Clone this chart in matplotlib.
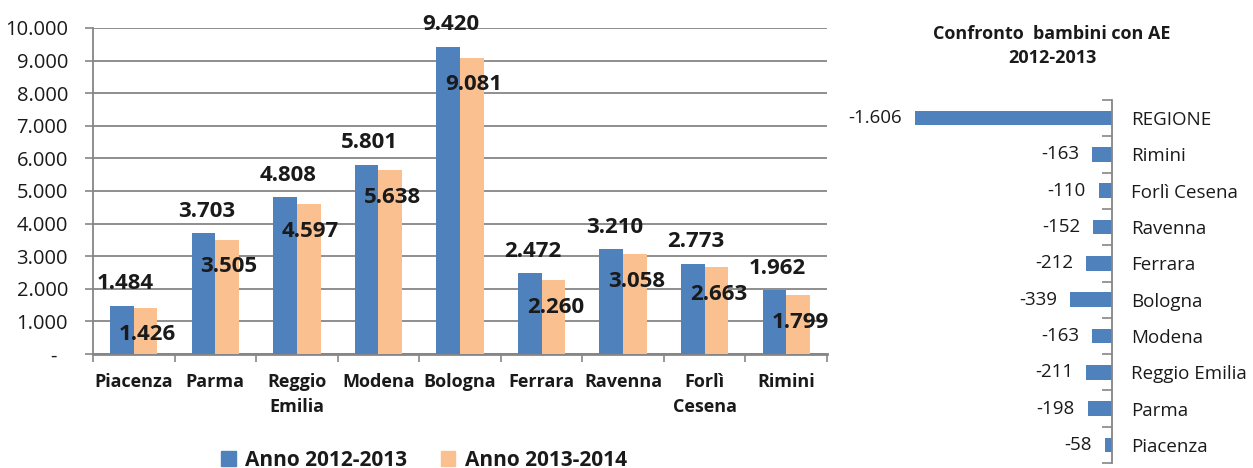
import matplotlib
matplotlib.use("Agg")
import matplotlib.pyplot as plt
from matplotlib.patches import Patch
import numpy as np

plt.rcParams["font.family"] = ["Open Sans", "DejaVu Sans"]

provinces = ["Piacenza", "Parma", "Reggio\nEmilia", "Modena", "Bologna",
             "Ferrara", "Ravenna", "Forlì\nCesena", "Rimini"]
anno_2012 = [1484, 3703, 4808, 5801, 9420, 2472, 3210, 2773, 1962]
anno_2013 = [1426, 3505, 4597, 5638, 9081, 2260, 3058, 2663, 1799]

diff_labels = ["REGIONE", "Rimini", "Forlì Cesena", "Ravenna", "Ferrara",
               "Bologna", "Modena", "Reggio Emilia", "Parma", "Piacenza"]
diff_values = [-1606, -163, -110, -152, -212, -339, -163, -211, -198, -58]

BLUE = "#4F81BD"
ORANGE = "#FAC090"
GRID = "#868686"
TEXT = "#1a1a1a"

W, H = 1253, 468


def fmt(v):
    return f"{v:,}".replace(",", ".")


def box(x0, y0, x1, y1):
    # pixel box (top-left origin) -> figure fraction
    return [x0 / W, 1 - y1 / H, (x1 - x0) / W, (y1 - y0) / H]


fig = plt.figure(figsize=(W / 100, H / 100), dpi=100)

# --- left: grouped bars ---
ax = fig.add_axes(box(93, 28, 827, 354))
x = np.arange(len(provinces))
bw = 0.29
b1 = ax.bar(x - bw / 2, anno_2012, bw, color=BLUE, zorder=3)
b2 = ax.bar(x + bw / 2, anno_2013, bw, color=ORANGE, zorder=3)

ax.set_xlim(-0.5, len(provinces) - 0.5)
ax.set_ylim(0, 10000)
yt = np.arange(0, 10001, 1000)
ax.set_yticks(yt)
ax.set_yticklabels(["-  "] + [fmt(v) for v in yt[1:]], fontsize=14.5, color=TEXT)
ax.yaxis.grid(True, color=GRID, linewidth=1.3, zorder=0)
ax.tick_params(axis="y", length=6, width=1.2, color=GRID, pad=12)

ax.set_xticks(x)
ax.set_xticklabels(provinces, fontsize=13, fontweight="bold", color=TEXT,
                   linespacing=1.45)
ax.set_xticks(np.arange(len(provinces) + 1) - 0.5, minor=True)
ax.tick_params(axis="x", which="major", length=0, pad=14)
ax.tick_params(axis="x", which="minor", length=6, width=1.2, color=GRID)

for s in ["top", "right"]:
    ax.spines[s].set_visible(False)
ax.spines["left"].set_color(GRID)
ax.spines["left"].set_linewidth(1.3)
ax.spines["bottom"].set_color(GRID)
ax.spines["bottom"].set_linewidth(2)

for bar, v in zip(b1, anno_2012):
    ax.annotate(fmt(v), (bar.get_x() + bar.get_width() / 2, v),
                xytext=(3, 22), textcoords="offset pixels", ha="center",
                va="center", fontsize=16, fontweight="bold", color=TEXT, zorder=5)
for bar, v in zip(b2, anno_2013):
    ax.annotate(fmt(v), (bar.get_x() + bar.get_width() / 2, v),
                xytext=(2, -27), textcoords="offset pixels", ha="center",
                va="center", fontsize=16, fontweight="bold", color=TEXT, zorder=5)

fig.legend(handles=[Patch(color=BLUE, label="Anno 2012-2013"),
                    Patch(color=ORANGE, label="Anno 2013-2014")],
           loc="center", bbox_to_anchor=(424 / W, 1 - 460 / H), ncol=2,
           frameon=False, prop={"size": 15, "weight": "bold"},
           handlelength=0.7, handleheight=0.7, handletextpad=0.45,
           columnspacing=1.6, labelcolor=TEXT)

# --- right: differences ---
ax2 = fig.add_axes(box(850, 100, 1112, 463))
y = np.arange(len(diff_labels))
ax2.barh(y, diff_values, height=0.4, color=BLUE)
ax2.set_xlim(-2135, 0)
ax2.set_ylim(len(diff_labels) - 0.5, -0.5)
ax2.set_xticks([])
ax2.set_yticks(y)
ax2.set_yticklabels(diff_labels, fontsize=13.5, color=TEXT)
ax2.set_yticks(np.arange(len(diff_labels) + 1) - 0.5, minor=True)
ax2.tick_params(axis="y", which="major", left=False, right=False,
                labelleft=False, labelright=True, pad=10)
ax2.tick_params(axis="y", which="minor", left=False, right=True,
                direction="in", length=7, width=1.2, color=GRID)
for s in ["top", "left", "bottom"]:
    ax2.spines[s].set_visible(False)
ax2.spines["right"].set_color(GRID)
ax2.spines["right"].set_linewidth(1.3)

for yi, v in zip(y, diff_values):
    ax2.annotate(fmt(v), (v, yi), xytext=(-13, 0), textcoords="offset pixels",
                 ha="right", va="center", fontsize=13.5, color=TEXT,
                 annotation_clip=False)

fig.text(1052 / W, 1 - 46 / H, "Confronto  bambini con AE\n2012-2013",
         ha="center", va="center", fontsize=13, fontweight="bold",
         color=TEXT, linespacing=1.45)

fig.savefig("out.png", dpi=100)
